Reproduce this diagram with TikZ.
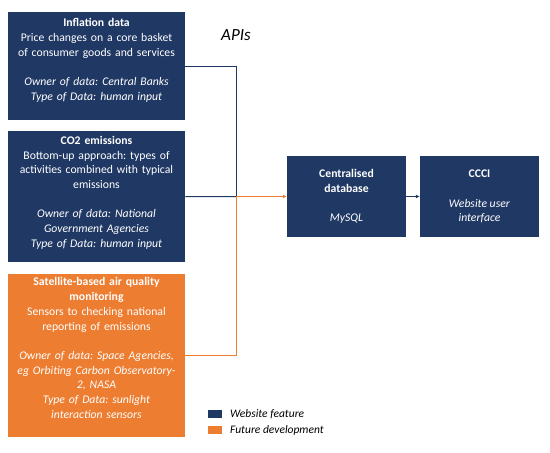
\documentclass[tikz,border=0pt]{standalone}
\usepackage{fontspec}
\setmainfont{Carlito}
\usepackage{xcolor}
\usetikzlibrary{arrows.meta}

\definecolor{navy}{HTML}{203864}
\definecolor{futureorange}{HTML}{ED7D31}

\tikzset{
	srcbox/.style={fill=#1, minimum width=177pt, inner sep=0pt, anchor=north west},
	boxtext/.style={text=white, align=center, text width=175pt, inner sep=0pt, anchor=north},
	dbbox/.style={fill=navy, text=white, align=center, minimum width=119pt, minimum height=81pt, inner sep=0pt},
	keybox/.style={fill=#1, minimum width=14pt, minimum height=8pt, inner sep=0pt},
	keytext/.style={anchor=west, inner sep=0pt, font=\fontsize{11.5}{14.7}\selectfont\itshape},
	link/.style={line width=1pt},
	tip/.style={-{Latex[length=4pt,width=4pt]}}
}

\begin{document}
\frenchspacing
\begin{tikzpicture}[x=1pt, y=-1pt, font=\fontsize{11.7}{14.7}\selectfont]
		\useasboundingbox (0,0) rectangle (550,453);

		% data sources
		\node[srcbox=navy, minimum height=108pt] (infl) at (8,12) {};
		\node[boxtext] (infltext) at (96.5,18.5) {\textbf{Inflation data}\\Price changes on a core basket\\of consumer goods and services\\[14.7pt]\textit{Owner of data: Central Banks}\\\textit{Type of Data: human input}};

		\node[srcbox=navy, minimum height=131pt] (co2) at (8,131) {};
		\node[boxtext] (co2text) at (96.5,136) {\textbf{CO2 emissions}\\Bottom-up approach: types of\\activities combined with typical\\emissions\\[14.7pt]\textit{Owner of data: National}\\\textit{Government Agencies}\\\textit{Type of Data: human input}};

		\node[srcbox=futureorange, minimum height=163pt] (sat) at (8,274) {};
		\node[boxtext] (sattext) at (96.5,277.5) {\textbf{Satellite-based air quality}\\\textbf{monitoring}\\Sensors to checking national\\reporting of emissions\\[14.7pt]\textit{Owner of data: Space Agencies,}\\\textit{eg Orbiting Carbon Observatory-}\\\textit{2, NASA}\\\textit{Type of Data: sunlight}\\\textit{interaction sensors}};

		\node[font=\fontsize{17}{20}\selectfont\itshape] (apis) at (236,35) {APIs};

		% database and website
		\node[dbbox] (db) at (346.5,196.5) {\textbf{Centralised}\\\textbf{database}\\[14.7pt]\textit{MySQL}};
		\node[dbbox] (ccci) at (479.5,196.5) {\textbf{CCCI}\\[14.7pt]\textit{Website user}\\\textit{interface}};

		% connectors
		\coordinate (merge) at (236,196.5);
		\draw[link, navy] (infl.east) -| (merge);
		\draw[link, navy] (co2.east) -- (merge);
		\draw[link, futureorange] (sat.east) -| (merge);
		\draw[link, futureorange, tip] (merge) -- (db.west);
		\draw[link, navy, tip] (db.east) -- (ccci.west);

		% key
		\node[keybox=navy] (keyweb) at (215,414) {};
		\node[keytext] (keywebtext) at (230,414) {Website feature};
		\node[keybox=futureorange] (keyfut) at (215,430) {};
		\node[keytext] (keyfuttext) at (230,430) {Future development};
	\end{tikzpicture}
\end{document}
